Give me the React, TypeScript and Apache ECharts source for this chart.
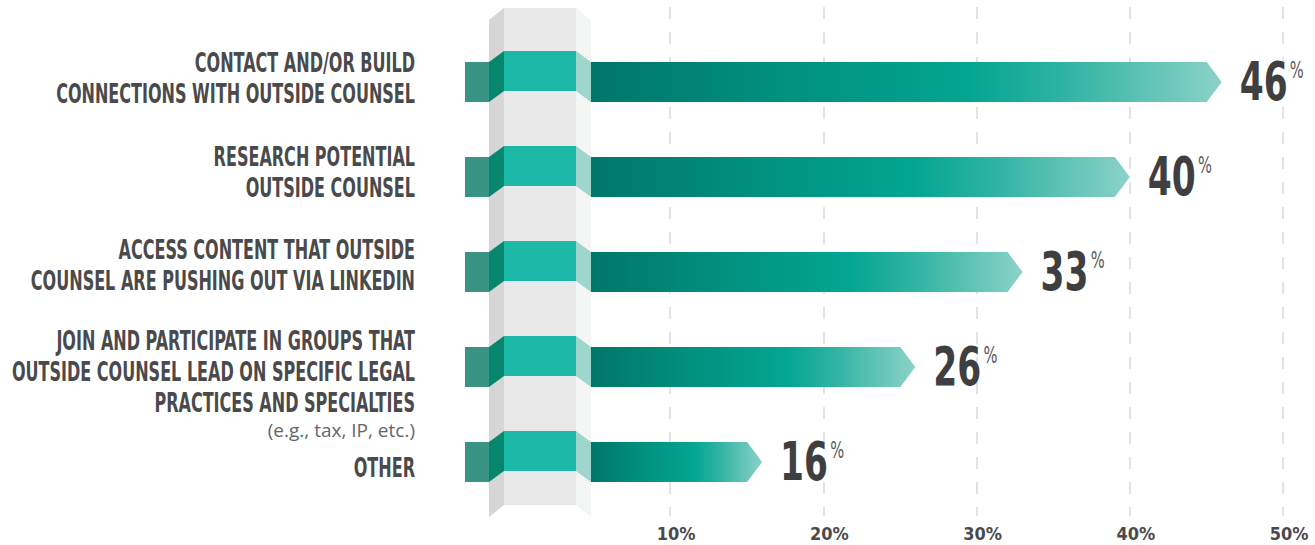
import React, { useEffect, useRef } from "react";
import * as echarts from "echarts";

// ---- data ----
const categories: string[] = [
  "CONTACT AND/OR BUILD\nCONNECTIONS WITH OUTSIDE COUNSEL",
  "RESEARCH POTENTIAL\nOUTSIDE COUNSEL",
  "ACCESS CONTENT THAT OUTSIDE\nCOUNSEL ARE PUSHING OUT VIA LINKEDIN",
  "JOIN AND PARTICIPATE IN GROUPS THAT\nOUTSIDE COUNSEL LEAD ON SPECIFIC LEGAL\nPRACTICES AND SPECIALTIES",
  "OTHER",
];
const subNotes: string[] = ["", "", "", "(e.g., tax, IP, etc.)", ""];
const values: number[] = [46, 40, 33, 26, 16];
const axisMin = 0;
const axisMax = 50;
const tickStep = 10;

// ---- layout / style constants ----
const NARROW = '"DejaVu Sans Condensed", sans-serif';
const labelNudge = [-4, -5, -7, 5, 6];
const BAR_H = 20; // half height
const LIFT = 11;
const X_STUB = 465;
const X_FOLD_L = 489;
const X_FRONT = 504;
const X_FRONT_END = 576;
const X_BAR = 591;
const TIP = 15;

const renderItem = (params: any, api: any) => {
  const i = params.dataIndex;
  const v = api.value(0);
  const c = api.coord([0, i])[1];
  const xe = api.coord([v, i])[0];
  const h = BAR_H;
  const nLines = categories[i].split("\n").length;
  const lc = c + labelNudge[i];
  const children: any[] = [
    {
      type: "rect",
      shape: { x: X_STUB, y: c - h, width: X_FOLD_L - X_STUB, height: 2 * h },
      style: { fill: "#3a9484" },
    },
    {
      type: "polygon",
      shape: {
        points: [
          [X_FOLD_L, c - h],
          [X_FRONT, c - h - LIFT],
          [X_FRONT, c + h - LIFT],
          [X_FOLD_L, c + h],
        ],
      },
      style: { fill: "#06866c" },
    },
    {
      type: "rect",
      shape: { x: X_FRONT, y: c - h - LIFT, width: X_FRONT_END - X_FRONT, height: 2 * h },
      style: { fill: "#1cb8a8" },
    },
    {
      type: "polygon",
      shape: {
        points: [
          [X_FRONT_END, c - h - LIFT],
          [X_BAR, c - h],
          [X_BAR, c + h],
          [X_FRONT_END, c + h - LIFT],
        ],
      },
      style: { fill: "#9ed6cd" },
    },
    {
      type: "polygon",
      shape: {
        points: [
          [X_BAR, c - h],
          [xe - TIP, c - h],
          [xe, c],
          [xe - TIP, c + h],
          [X_BAR, c + h],
        ],
      },
      style: {
        fill: new echarts.graphic.LinearGradient(0, 0, 1, 0, [
          { offset: 0, color: "#00766a" },
          { offset: 0.3, color: "#00907e" },
          { offset: 0.6, color: "#03a592" },
          { offset: 0.75, color: "#2fb3a3" },
          { offset: 1, color: "#8cd2c7" },
        ]),
      },
    },
    {
      type: "text",
      x: xe + 18,
      y: c,
      scaleX: 0.71,
      style: {
        text: `{n|${v}}{p|%}`,
        align: "left",
        verticalAlign: "middle",
        rich: {
          n: { fontFamily: NARROW, fontWeight: "bold", fontSize: 54, lineHeight: 54, fill: "#3f3f42" },
          p: {
            fontFamily: NARROW,
            fontSize: 23,
            lineHeight: 23,
            verticalAlign: "top",
            fill: "#58585a",
            padding: [3, 0, 0, 3],
          },
        },
      },
    },
    {
      type: "text",
      x: 415,
      y: lc,
      scaleX: 0.66,
      style: {
        text: categories[i],
        align: "right",
        verticalAlign: "middle",
        fontFamily: NARROW,
        fontWeight: "bold",
        fontSize: 27,
        lineHeight: 31,
        fill: "#4a4a4c",
      },
    },
  ];
  if (subNotes[i]) {
    children.push({
      type: "text",
      x: 415,
      y: lc + (nLines * 31) / 2 + 11,
      style: {
        text: subNotes[i],
        align: "right",
        verticalAlign: "middle",
        fontFamily: '"Open Sans", sans-serif',
        fontSize: 19,
        fill: "#666668",
      },
    });
  }
  return { type: "group", children };
};

export default function App() {
  const ref = useRef<HTMLDivElement>(null);
  useEffect(() => {
    if (!ref.current) return;
    const chart = echarts.init(ref.current, undefined, { renderer: "svg" });
    chart.setOption({
      animation: false,
      backgroundColor: "#ffffff",
      grid: [
        { left: 517, right: 32, top: 34.5, height: 475 },
        { left: 670, right: 32, top: 7, bottom: 29 },
      ],
      xAxis: [
        { gridIndex: 0, type: "value", min: axisMin, max: axisMax, show: false },
        {
          gridIndex: 1,
          type: "value",
          min: tickStep,
          max: axisMax,
          interval: tickStep,
          axisLine: { show: false },
          axisTick: { show: false },
          splitLine: { show: true, lineStyle: { color: "#e3e3e3", width: 2, type: [12, 13] } },
          axisLabel: {
            formatter: "{value}%",
            fontFamily: NARROW,
            fontWeight: "bold",
            fontSize: 18,
            color: "#4a4a4c",
            margin: 8,
            padding: [0, 0, 0, 12],
          },
        },
      ],
      yAxis: [
        { gridIndex: 0, type: "category", data: categories, inverse: true, show: false },
        { gridIndex: 1, type: "value", show: false },
      ],
      graphic: {
        elements: [
          {
            type: "polygon",
            z: 1,
            shape: { points: [[X_FOLD_L, 20], [X_FRONT, 8], [X_FRONT, 505], [X_FOLD_L, 517]] },
            style: { fill: "#d6d6d6" },
          },
          {
            type: "rect",
            z: 1,
            shape: { x: X_FRONT, y: 8, width: X_FRONT_END - X_FRONT, height: 497 },
            style: { fill: "#e9e9e9" },
          },
          {
            type: "polygon",
            z: 1,
            shape: { points: [[X_FRONT_END, 8], [X_BAR, 20], [X_BAR, 517], [X_FRONT_END, 505]] },
            style: { fill: "#f4f6f6" },
          },
        ],
      },
      series: [
        {
          type: "custom",
          xAxisIndex: 0,
          yAxisIndex: 0,
          z: 3,
          data: values.map((v, i) => [v, i]),
          encode: { x: 0, y: 1 },
          renderItem,
        },
      ],
    });
    return () => chart.dispose();
  }, []);
  return (
    <div
      ref={ref}
      style={{ position: "fixed", left: 0, top: 0, width: 1315, height: 545, background: "#fff" }}
    />
  );
}
